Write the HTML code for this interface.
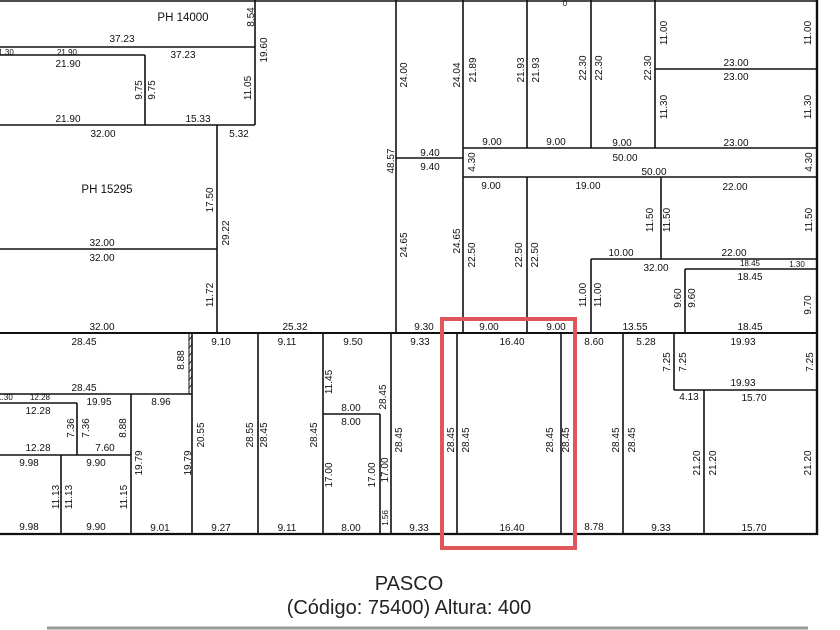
<!DOCTYPE html>
<html><head><meta charset="utf-8"><style>
html,body{margin:0;padding:0;background:#fff;}
svg{display:block;}
text{font-family:"Liberation Sans Narrow","Liberation Sans",sans-serif;font-size:10px;fill:#111;text-anchor:middle;}
.s{font-size:8px;}
.b{font-size:11.5px;}
</style></head><body>
<svg width="840" height="630" viewBox="0 0 840 630" xmlns="http://www.w3.org/2000/svg">
<g stroke="#111" stroke-width="1.6" fill="none">
<line x1="0" y1="1" x2="818" y2="1"/>
<line x1="817" y1="0" x2="817" y2="535" stroke-width="2.4"/>
<line x1="0" y1="534" x2="818" y2="534" stroke-width="2.2"/>
<line x1="0" y1="333" x2="817" y2="333" stroke-width="2"/>
<line x1="0" y1="47" x2="255" y2="47"/>
<line x1="255" y1="0" x2="255" y2="125"/>
<line x1="0" y1="55" x2="145" y2="55"/>
<line x1="145" y1="55" x2="145" y2="125"/>
<line x1="0" y1="125" x2="255" y2="125"/>
<line x1="217" y1="125" x2="217" y2="333"/>
<line x1="0" y1="249" x2="217" y2="249"/>
<line x1="396" y1="0" x2="396" y2="333"/>
<line x1="396" y1="158" x2="463" y2="158"/>
<line x1="463" y1="0" x2="463" y2="333"/>
<line x1="527" y1="0" x2="527" y2="148"/>
<line x1="527" y1="177" x2="527" y2="333"/>
<line x1="591" y1="0" x2="591" y2="148"/>
<line x1="655" y1="0" x2="655" y2="148"/>
<line x1="655" y1="69" x2="817" y2="69"/>
<line x1="463" y1="148" x2="817" y2="148"/>
<line x1="463" y1="177" x2="817" y2="177"/>
<line x1="661" y1="177" x2="661" y2="259"/>
<line x1="591" y1="259" x2="817" y2="259"/>
<line x1="591" y1="259" x2="591" y2="333"/>
<line x1="685" y1="269" x2="817" y2="269"/>
<line x1="685" y1="269" x2="685" y2="333"/>
<line x1="192" y1="333" x2="192" y2="534"/>
<line x1="0" y1="394" x2="192" y2="394"/>
<line x1="131" y1="394" x2="131" y2="534"/>
<line x1="0" y1="403" x2="77" y2="403"/>
<line x1="77" y1="403" x2="77" y2="455"/>
<line x1="0" y1="455" x2="131" y2="455"/>
<line x1="61" y1="455" x2="61" y2="534"/>
<line x1="258" y1="333" x2="258" y2="534"/>
<line x1="323" y1="333" x2="323" y2="534"/>
<line x1="323" y1="414" x2="380" y2="414"/>
<line x1="380" y1="414" x2="380" y2="534"/>
<line x1="391" y1="333" x2="391" y2="534"/>
<line x1="457" y1="333" x2="457" y2="534"/>
<line x1="561" y1="333" x2="561" y2="534"/>
<line x1="623" y1="333" x2="623" y2="534"/>
<line x1="674" y1="333" x2="674" y2="390"/>
<line x1="674" y1="390" x2="817" y2="390"/>
<line x1="704" y1="390" x2="704" y2="534"/>
<line x1="189" y1="333" x2="189" y2="394" stroke-width="1"/>
<path d="M189 340 L192 336 M189 348 L192 344 M189 356 L192 352 M189 364 L192 360 M189 372 L192 368 M189 380 L192 376 M189 388 L192 384" stroke-width="0.8"/>
</g>
<rect x="442" y="319" width="133" height="229" fill="none" stroke="#e0575b" stroke-width="4"/>
<line x1="47" y1="628" x2="808" y2="628" stroke="#999" stroke-width="3"/>
<g>
<text x="183" y="21" class="b">PH 14000</text>
<text x="122" y="42">37.23</text>
<text x="6" y="55" class="s">1.30</text><text x="67" y="55" class="s">21.90</text>
<text x="183" y="58">37.23</text>
<text x="68" y="67">21.90</text>
<text x="68" y="122">21.90</text><text x="198" y="122">15.33</text>
<text x="103" y="137">32.00</text><text x="239" y="137">5.32</text>
<text x="107" y="193" class="b">PH 15295</text>
<text x="102" y="246">32.00</text><text x="102" y="261">32.00</text>
<text x="102" y="330">32.00</text><text x="295" y="330">25.32</text>
<text x="430" y="156">9.40</text><text x="430" y="170">9.40</text>
<text x="492" y="145">9.00</text><text x="556" y="145">9.00</text><text x="622" y="146">9.00</text><text x="736" y="146">23.00</text>
<text x="736" y="66">23.00</text><text x="736" y="80">23.00</text>
<text x="625" y="161">50.00</text><text x="654" y="175">50.00</text>
<text x="491" y="189">9.00</text><text x="588" y="189">19.00</text><text x="735" y="190">22.00</text>
<text x="621" y="256">10.00</text><text x="734" y="256">22.00</text>
<text x="656" y="271">32.00</text><text x="750" y="266" class="s">18.45</text><text x="797" y="267" class="s">1.30</text><text x="750" y="280">18.45</text>
<text x="424" y="330">9.30</text><text x="489" y="330">9.00</text><text x="556" y="330">9.00</text><text x="635" y="330">13.55</text><text x="750" y="330">18.45</text>
<text x="84" y="345">28.45</text><text x="221" y="345">9.10</text><text x="287" y="345">9.11</text><text x="353" y="345">9.50</text><text x="420" y="345">9.33</text><text x="512" y="345">16.40</text><text x="594" y="345">8.60</text><text x="646" y="345">5.28</text><text x="743" y="345">19.93</text>
<text x="84" y="391">28.45</text><text x="743" y="386">19.93</text><text x="689" y="400">4.13</text><text x="754" y="401">15.70</text>
<text x="5" y="400" class="s">1.30</text><text x="40" y="400" class="s">12.28</text><text x="99" y="405">19.95</text><text x="161" y="405">8.96</text>
<text x="38" y="414">12.28</text><text x="351" y="411">8.00</text><text x="351" y="425">8.00</text>
<text x="38" y="451">12.28</text><text x="105" y="451">7.60</text>
<text x="29" y="466">9.98</text><text x="96" y="466">9.90</text>
<text x="29" y="530">9.98</text><text x="96" y="530">9.90</text><text x="160" y="531">9.01</text><text x="221" y="531">9.27</text><text x="287" y="531">9.11</text><text x="351" y="531">8.00</text><text x="419" y="531">9.33</text><text x="512" y="531">16.40</text><text x="594" y="530">8.78</text><text x="661" y="531">9.33</text><text x="754" y="531">15.70</text>
<text x="565" y="6" class="s">0</text>
</g>
<g>
<text transform="translate(254,17) rotate(-90)">8.54</text>
<text transform="translate(267,50) rotate(-90)">19.60</text>
<text transform="translate(142,90) rotate(-90)">9.75</text>
<text transform="translate(155,90) rotate(-90)">9.75</text>
<text transform="translate(251,88) rotate(-90)">11.05</text>
<text transform="translate(213,200) rotate(-90)">17.50</text>
<text transform="translate(229,233) rotate(-90)">29.22</text>
<text transform="translate(213,295) rotate(-90)">11.72</text>
<text transform="translate(407,75) rotate(-90)">24.00</text>
<text transform="translate(394,161) rotate(-90)">48.57</text>
<text transform="translate(407,245) rotate(-90)">24.65</text>
<text transform="translate(460,75) rotate(-90)">24.04</text>
<text transform="translate(476,70) rotate(-90)">21.89</text>
<text transform="translate(524,70) rotate(-90)">21.93</text>
<text transform="translate(539,70) rotate(-90)">21.93</text>
<text transform="translate(586,68) rotate(-90)">22.30</text>
<text transform="translate(602,68) rotate(-90)">22.30</text>
<text transform="translate(651,68) rotate(-90)">22.30</text>
<text transform="translate(667,33) rotate(-90)">11.00</text>
<text transform="translate(811,33) rotate(-90)">11.00</text>
<text transform="translate(667,107) rotate(-90)">11.30</text>
<text transform="translate(811,107) rotate(-90)">11.30</text>
<text transform="translate(475,162) rotate(-90)">4.30</text>
<text transform="translate(812,162) rotate(-90)">4.30</text>
<text transform="translate(460,241) rotate(-90)">24.65</text>
<text transform="translate(475,255) rotate(-90)">22.50</text>
<text transform="translate(522,255) rotate(-90)">22.50</text>
<text transform="translate(538,255) rotate(-90)">22.50</text>
<text transform="translate(653,220) rotate(-90)">11.50</text>
<text transform="translate(670,220) rotate(-90)">11.50</text>
<text transform="translate(812,220) rotate(-90)">11.50</text>
<text transform="translate(586,295) rotate(-90)">11.00</text>
<text transform="translate(601,295) rotate(-90)">11.00</text>
<text transform="translate(681,298) rotate(-90)">9.60</text>
<text transform="translate(695,298) rotate(-90)">9.60</text>
<text transform="translate(811,305) rotate(-90)">9.70</text>
<text transform="translate(184,360) rotate(-90)">8.88</text>
<text transform="translate(332,382) rotate(-90)">11.45</text>
<text transform="translate(386,397) rotate(-90)">28.45</text>
<text transform="translate(74,428) rotate(-90)">7.36</text>
<text transform="translate(89,428) rotate(-90)">7.36</text>
<text transform="translate(126,428) rotate(-90)">8.88</text>
<text transform="translate(204,435) rotate(-90)">20.55</text>
<text transform="translate(253,435) rotate(-90)">28.55</text>
<text transform="translate(267,435) rotate(-90)">28.45</text>
<text transform="translate(317,435) rotate(-90)">28.45</text>
<text transform="translate(142,463) rotate(-90)">19.79</text>
<text transform="translate(191,463) rotate(-90)">19.79</text>
<text transform="translate(402,440) rotate(-90)">28.45</text>
<text transform="translate(454,440) rotate(-90)">28.45</text>
<text transform="translate(469,440) rotate(-90)">28.45</text>
<text transform="translate(553,440) rotate(-90)">28.45</text>
<text transform="translate(569,440) rotate(-90)">28.45</text>
<text transform="translate(619,440) rotate(-90)">28.45</text>
<text transform="translate(635,440) rotate(-90)">28.45</text>
<text transform="translate(670,362) rotate(-90)">7.25</text>
<text transform="translate(686,362) rotate(-90)">7.25</text>
<text transform="translate(813,362) rotate(-90)">7.25</text>
<text transform="translate(332,475) rotate(-90)">17.00</text>
<text transform="translate(375,475) rotate(-90)">17.00</text>
<text transform="translate(388,470) rotate(-90)">17.00</text>
<text transform="translate(388,518) rotate(-90)" class="s">1.56</text>
<text transform="translate(59,497) rotate(-90)">11.13</text>
<text transform="translate(72,497) rotate(-90)">11.13</text>
<text transform="translate(127,497) rotate(-90)">11.15</text>
<text transform="translate(700,463) rotate(-90)">21.20</text>
<text transform="translate(716,463) rotate(-90)">21.20</text>
<text transform="translate(811,463) rotate(-90)">21.20</text>
</g>
<text x="409" y="590" style="font-family:'Liberation Sans Narrow','Liberation Sans',sans-serif;font-size:20px;fill:#222">PASCO</text>
<text x="409" y="614" style="font-family:'Liberation Sans Narrow','Liberation Sans',sans-serif;font-size:20px;fill:#222">(Código: 75400) Altura: 400</text>
</svg>
</body></html>
